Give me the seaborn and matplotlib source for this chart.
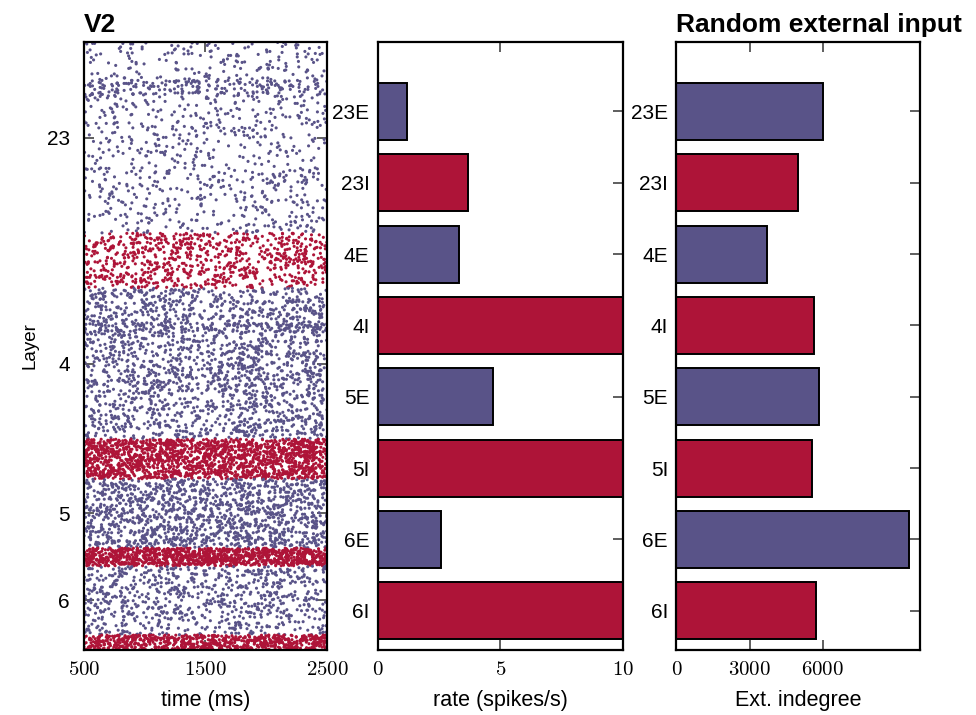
import numpy as np
import pandas as pd
import matplotlib
matplotlib.use("Agg")
import matplotlib.pyplot as plt
import seaborn as sns

# Populations (top to bottom)
pops = ["23E", "23I", "4E", "4I", "5E", "5I", "6E", "6I"]
is_exc = [True, False, True, False, True, False, True, False]

# Firing rates (spikes/s); I-rates > 10 are clipped there
rates = [1.2, 3.7, 3.3, 11.0, 4.7, 16.0, 2.6, 13.0]

# External indegree
indegree = [6000, 4980, 3700, 5650, 5850, 5560, 9550, 5720]

# Raster band heights (neurons shown per population)
band_size = [191, 55, 151, 40, 69, 18, 69, 15]
# denser streaks inside some bands: (population, start row, end row, rate factor)
streaks = [("23E", 38, 55, 3.0), ("4E", 35, 45, 1.8)]

layer_labels = ["23", "4", "5", "6"]
t_start, t_stop = 500, 2500

blue = "#595388"
red = "#ae1438"
colors = [blue if e else red for e in is_exc]

sns.set_theme(style="white")
plt.rcParams["font.family"] = ["Liberation Sans", "DejaVu Sans"]
plt.rcParams["mathtext.fontset"] = "cm"
plt.rcParams["axes.linewidth"] = 1.6
for k in ["text.color", "axes.labelcolor", "xtick.labelcolor", "ytick.labelcolor"]:
    plt.rcParams[k] = "black"

# ---- spike raster (Poisson spikes at the rates above, fixed seed) ----
rng = np.random.default_rng(7)
rows_per_unit = 2
rec = []
offset = 0
for p, n, r, c in zip(pops, band_size, rates, colors):
    dens = np.full(n, r)
    for sp, a, b, f in streaks:
        if sp == p:
            dens[a:b] *= f
    for row in range(n):
        for k in range(rows_per_unit):
            cnt = rng.poisson(dens[row] * (t_stop - t_start) / 1000.0)
            if cnt == 0:
                continue
            t = rng.uniform(t_start, t_stop, cnt)
            y = offset + row + (k + 0.5) / rows_per_unit
            for ti in t:
                rec.append((ti, y, p))
    offset += n
spikes = pd.DataFrame(rec, columns=["time", "nrn", "pop"])
bounds = np.concatenate([[0], np.cumsum(band_size)])
layer_pos = [(bounds[i] + bounds[i + 1]) / 2 for i in range(0, 8, 2)]

fig = plt.figure(figsize=(9.76, 7.15), dpi=100)
ax1 = fig.add_axes([0.086, 0.091, 0.249, 0.850])
ax2 = fig.add_axes([0.387, 0.091, 0.251, 0.850])
ax3 = fig.add_axes([0.693, 0.091, 0.250, 0.850])

sns.scatterplot(data=spikes, x="time", y="nrn", hue="pop", palette=dict(zip(pops, colors)),
                s=5, linewidth=0, legend=False, ax=ax1)
ax1.set_xlim(t_start, t_stop)
ax1.set_ylim(bounds[-1], 0)
ax1.set_xticks([500, 1500, 2500])
ax1.set_xticklabels([r"$500$", r"$1500$", r"$2500$"])
ax1.set_yticks(layer_pos)
ax1.set_yticklabels(layer_labels)
ax1.set_xlabel("time (ms)", fontsize=15.5, labelpad=8)
ax1.set_ylabel("Layer", fontsize=13.5, labelpad=6)
ax1.set_title("V2", loc="left", fontsize=19, fontweight="bold", pad=7)

ylim_bar = (7.55, -0.97)
sns.barplot(x=rates, y=pops, hue=pops, palette=colors, legend=False, orient="h",
            edgecolor="black", linewidth=1.4, width=0.8, saturation=1, ax=ax2)
ax2.set_xlim(0, 10)
ax2.set_ylim(*ylim_bar)
ax2.set_xticks([0, 5, 10])
ax2.set_xticklabels([r"$0$", r"$5$", r"$10$"])
ax2.set_xlabel("rate (spikes/s)", fontsize=15.5, labelpad=8)
ax2.set_ylabel("")

sns.barplot(x=indegree, y=pops, hue=pops, palette=colors, legend=False, orient="h",
            edgecolor="black", linewidth=1.4, width=0.8, saturation=1, ax=ax3)
ax3.set_xlim(0, 10000)
ax3.set_ylim(*ylim_bar)
ax3.set_xticks([0, 3000, 6000])
ax3.set_xticklabels([r"$0$", r"$3000$", r"$6000$"])
ax3.set_xlabel("Ext. indegree", fontsize=15.5, labelpad=8)
ax3.set_ylabel("")
ax3.set_title("Random external input", loc="left", fontsize=19, fontweight="bold", pad=7)

for ax in (ax1, ax2, ax3):
    ax.tick_params(direction="in", length=7, width=1.1, top=True, right=True,
                   left=True, bottom=True, color="#333333")
    ax.tick_params(axis="x", pad=7, labelsize=15)
    ax.tick_params(axis="y", pad=6, labelsize=15)
    for s in ax.spines.values():
        s.set_color("black")
    ax.grid(False)
ax1.tick_params(axis="y", pad=10)

fig.savefig("out.png", dpi=100)
